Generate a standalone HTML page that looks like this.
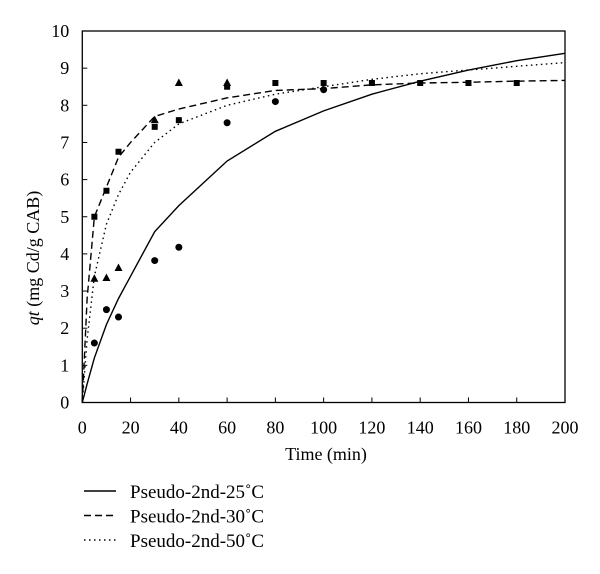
<!DOCTYPE html>
<html><head><meta charset="utf-8"><style>
body{margin:0;background:#fff}
svg{display:block}
svg text{font-family:"Liberation Serif","DejaVu Serif",serif}
</style></head><body>
<svg id="c" width="600" height="574" font-family="Liberation Serif, serif"></svg>
<script>
const tickX=[0,20,40,60,80,100,120,140,160,180,200];
const tickY=[0,1,2,3,4,5,6,7,8,9,10];
const circT=[5,10,15,30,40,60,80,100];
const circQ=[1.6,2.5,2.3,3.82,4.18,7.53,8.1,8.42];
const sqT=[5,10,15,30,40,60,80,100,120,140,160,180];
const sqQ=[5.0,5.7,6.75,7.42,7.6,8.5,8.6,8.6,8.6,8.6,8.6,8.6];
const triT=[5,10,15,30,40,60];
const triQ=[3.33,3.35,3.62,7.6,8.6,8.6];
const lineT=[0,2,5,10,15,20,30,40,60,80,100,120,140,160,180,200];
const solidQ=[0,0.5,1.2,2.1,2.8,3.4,4.6,5.3,6.5,7.3,7.85,8.3,8.65,8.95,9.2,9.4];
const dashQ=[0,2.8,5.0,5.8,6.6,7.0,7.7,7.9,8.2,8.4,8.45,8.55,8.6,8.62,8.65,8.67];
const dotQ=[0,1.7,3.4,4.8,5.6,6.2,7.0,7.5,8.0,8.3,8.5,8.7,8.85,8.95,9.05,9.15];
const legendLabels=["Pseudo-2nd-25\u02daC","Pseudo-2nd-30\u02daC","Pseudo-2nd-50\u02daC"];
const X0=82.3,X1=565,Y0=402.5,Y1=31;
const FF='"Liberation Serif", serif';
const sx=t=>X0+(t/200)*(X1-X0), sy=q=>Y0-(q/10)*(Y0-Y1);
const svg=document.getElementById('c');const NS='http://www.w3.org/2000/svg';
function mk(tag,at,txt){const e=document.createElementNS(NS,tag);for(const k in at)e.setAttribute(k,at[k]);if(tag==='text')e.style.fontFamily=FF;if(txt!=null)e.textContent=txt;svg.appendChild(e);return e;}
let e;
e=mk('rect',{x:X0,y:Y1,width:X1-X0,height:Y0-Y1,fill:'none',stroke:'#000','stroke-width':1.3});


tickX.forEach(v=>{mk('line',{x1:sx(v),y1:Y0-5,x2:sx(v),y2:Y0,stroke:'#000'});
e=mk('text',{x:sx(v),y:Y0+31,'text-anchor':'middle','font-size':18},v);

});
tickY.forEach(v=>{mk('line',{x1:X0,y1:sy(v),x2:X0+5,y2:sy(v),stroke:'#000'});
e=mk('text',{x:X0-13,y:sy(v)+6,'text-anchor':'end','font-size':18},v);

});
e=mk('text',{x:326,y:460,'text-anchor':'middle','font-size':18},'Time (min)');


e=mk('text',{x:0,y:0,'text-anchor':'middle','font-size':18,transform:'translate(39,258) rotate(-90)'});
e.innerHTML='<tspan font-style="italic">qt</tspan> (mg Cd/g CAB)';


function path(q,dash,name){const d=lineT.map((t,i)=>(i?'L':'M')+sx(t)+','+sy(q[i])).join('');
const p=mk('path',{d:d,fill:'none',stroke:'#000','stroke-width':1.4,'stroke-dasharray':dash});

}
path(solidQ,'none','line-25c');path(dashQ,'7,4','line-30c');path(dotQ,'1.5,3.5','line-50c');
circT.forEach((t,i)=>{e=mk('circle',{cx:sx(t),cy:sy(circQ[i]),r:3.5});

});
sqT.forEach((t,i)=>{e=mk('rect',{x:sx(t)-3,y:sy(sqQ[i])-3,width:6,height:6});

});
triT.forEach((t,i)=>{const x=sx(t),y=sy(triQ[i]);e=mk('polygon',{points:`${x},${y-4.5} ${x-4},${y+3} ${x+4},${y+3}`});

});
const dashes=['none','7,4','1.5,3.5'];
legendLabels.forEach((l,i)=>{const y=491+i*24.5;
e=mk('line',{x1:84,y1:y,x2:116,y2:y,stroke:'#000','stroke-width':1.4,'stroke-dasharray':dashes[i]});


e=mk('text',{x:130,y:y+7,'font-size':19},l);

});
</script>
</body></html>
